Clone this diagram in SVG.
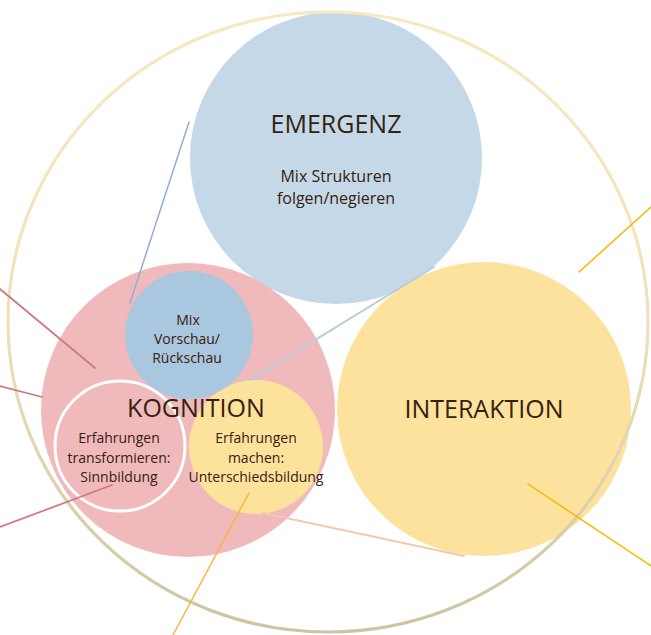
<svg xmlns="http://www.w3.org/2000/svg" width="651" height="635" viewBox="0 0 651 635">
<defs>
<linearGradient id="ring" x1="0" y1="0" x2="0" y2="1">
<stop offset="0" stop-color="#f9e8bf"/>
<stop offset="0.5" stop-color="#eee2bb"/>
<stop offset="1" stop-color="#cdc4a3"/>
</linearGradient>
<style>
.t{font-family:"Open Sans","Noto Sans","Liberation Sans",sans-serif;fill:#36210f;text-anchor:middle}
.big{font-size:25px}
.mid{font-size:16px}
.sm{font-size:14px}
.ln{fill:none;stroke-linecap:round}
</style>
</defs>
<rect width="651" height="635" fill="#ffffff"/>
<g id="emergenz">
<circle cx="336" cy="158" r="146" fill="#c5d8e8"/>
<text class="t big" x="336" y="133">EMERGENZ</text>
<text class="t mid" x="336" y="182">Mix Strukturen</text>
<text class="t mid" x="336" y="204">folgen/negieren</text>
</g>
<g id="interaktion">
<circle cx="484" cy="409" r="147" fill="#fce29c"/>
<text class="t big" x="484" y="418">INTERAKTION</text>
</g>
<g id="kognition">
<circle cx="188" cy="410" r="147" fill="#f0b9bb"/>
</g>
<g id="sinnbildung">
<circle cx="120" cy="446" r="65" fill="#f0b9bb" stroke="#ffffff" stroke-width="3"/>
<text class="t sm" x="119" y="443">Erfahrungen</text>
<text class="t sm" x="119" y="463">transformieren:</text>
<text class="t sm" x="119" y="482">Sinnbildung</text>
</g>
<g id="unterschiedsbildung">
<circle cx="256" cy="447" r="67" fill="#fde29c"/>
<text class="t sm" x="256" y="443">Erfahrungen</text>
<text class="t sm" x="256" y="463">machen:</text>
<text class="t sm" x="256" y="482">Unterschiedsbildung</text>
</g>
<g id="mix">
<circle cx="189" cy="335" r="64" fill="#a9c7de"/>
<text class="t sm" x="188" y="325">Mix</text>
<text class="t sm" x="187" y="344">Vorschau/</text>
<text class="t sm" x="187" y="363">Rückschau</text>
</g>
<g id="kognition-label">
<text class="t big" x="196" y="417">KOGNITION</text>
</g>
<g id="outer">
<ellipse cx="328" cy="322" rx="320" ry="310" fill="none" stroke="url(#ring)" stroke-width="3.2"/>
</g>
<g id="connectors">
<line class="ln" x1="189" y1="122" x2="130" y2="303" stroke="#94acd6" stroke-width="1.5"/>
<line class="ln" x1="434" y1="267" x2="250" y2="380" stroke="#bccbd9" stroke-width="2"/>
<line class="ln" x1="0" y1="289" x2="95" y2="368" stroke="#cc7b80" stroke-width="1.8"/>
<line class="ln" x1="0" y1="386" x2="42" y2="397" stroke="#cc7b80" stroke-width="1.8"/>
<line class="ln" x1="0" y1="527" x2="112" y2="485" stroke="#cc7b80" stroke-width="1.8"/>
<line class="ln" x1="249" y1="493" x2="173" y2="635" stroke="#f6b83e" stroke-width="1.5"/>
<line class="ln" x1="263" y1="513" x2="464" y2="556" stroke="#f3c9ab" stroke-width="1.8"/>
<line class="ln" x1="651" y1="207" x2="579" y2="272" stroke="#f5b800" stroke-width="1.5"/>
<line class="ln" x1="528" y1="484" x2="651" y2="566" stroke="#f5b800" stroke-width="1.5"/>
</g>
</svg>
